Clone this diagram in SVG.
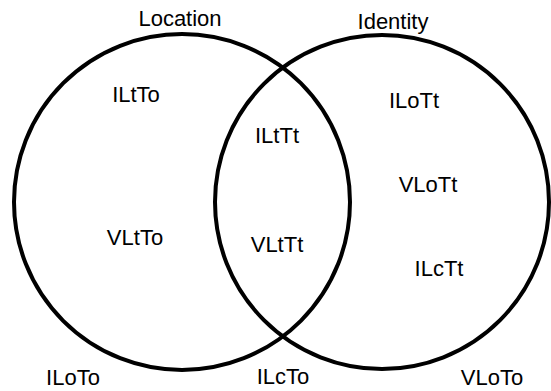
<svg xmlns="http://www.w3.org/2000/svg" width="551" height="391" viewBox="0 0 551 391">
  <style>
    .set { fill: none; stroke: #000; stroke-width: 4; }
    .lbl { font-family: "Liberation Sans", Arial, sans-serif; font-size: 22px; fill: #000; text-anchor: middle; }
  </style>
  <rect width="551" height="391" fill="#fff"/>

  <!-- Set: Location -->
  <g id="set-location">
    <circle class="set" cx="182" cy="202" r="168"/>
    <text class="lbl" x="180" y="26">Location</text>
  </g>

  <!-- Set: Identity -->
  <g id="set-identity">
    <circle class="set" cx="382" cy="202" r="167"/>
    <text class="lbl" x="393" y="29">Identity</text>
  </g>

  <!-- Region labels -->
  <g id="location-only">
    <text class="lbl" x="136" y="102">ILtTo</text>
    <text class="lbl" x="135" y="245">VLtTo</text>
  </g>
  <g id="overlap">
    <text class="lbl" x="277" y="143">ILtTt</text>
    <text class="lbl" x="277" y="252">VLtTt</text>
  </g>
  <g id="identity-only">
    <text class="lbl" x="414" y="108">ILoTt</text>
    <text class="lbl" x="428" y="192">VLoTt</text>
    <text class="lbl" x="439" y="276">ILcTt</text>
  </g>
  <g id="outside">
    <text class="lbl" x="73" y="385">ILoTo</text>
    <text class="lbl" x="283" y="384">ILcTo</text>
    <text class="lbl" x="492" y="385">VLoTo</text>
  </g>
</svg>
